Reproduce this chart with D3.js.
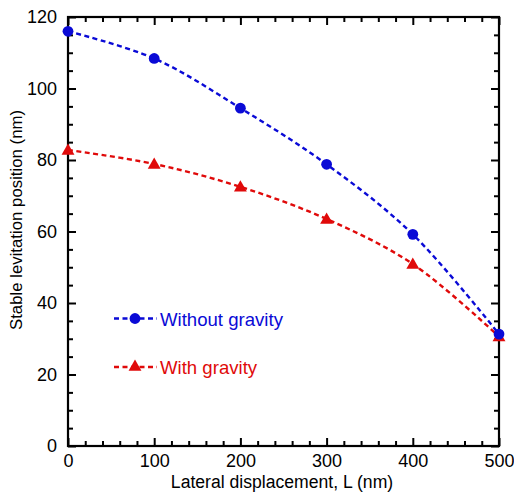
<!DOCTYPE html>
<html>
<head>
<meta charset="utf-8">
<script src="https://cdn.jsdelivr.net/npm/d3@7"></script>
<style>
  html, body { margin: 0; padding: 0; background: #fff; }
  svg { display: block; font-family: "Liberation Sans", Arial, Helvetica, sans-serif; }
</style>
</head>
<body>
<svg id="chart" width="514" height="496"></svg>
<script>
// Lateral displacement (nm)
const displacement = [0, 100, 200, 300, 400, 500];
// Stable levitation position (nm)
const withoutGravity = [116, 108.4, 94.5, 78.8, 59.2, 31.3];
const withGravity = [82.8, 78.9, 72.5, 63.5, 50.9, 30.6];

const xTicks = [0, 100, 200, 300, 400, 500];
const yTicks = [0, 20, 40, 60, 80, 100, 120];
const seriesNames = ["Without gravity", "With gravity"];

const blue = "#0a0ad6";
const red = "#e00a0a";

const svg = d3.select("#chart");
const plotLeft = 68, plotRight = 499, plotTop = 17, plotBottom = 446;

const x = d3.scaleLinear().domain([0, 500]).range([plotLeft, plotRight]);
const y = d3.scaleLinear().domain([0, 120]).range([plotBottom, plotTop]);

const xMinor = d3.range(0, 501, 20).filter(v => v % 100 !== 0);
const yMinor = d3.range(0, 121, 5).filter(v => v % 20 !== 0);

function styleAxis(g) {
  g.select(".domain").remove();
  g.selectAll(".tick line").attr("stroke", "#000").attr("stroke-width", 2);
  g.selectAll(".tick text").attr("fill", "#000").attr("font-size", 18)
    .attr("font-family", "Liberation Sans, Arial, sans-serif");
}

// bottom axis with labels, ticks pointing inward
svg.append("g").attr("transform", `translate(0,${plotBottom})`)
  .call(d3.axisBottom(x).tickValues(xTicks).tickSize(-8).tickPadding(8.5).tickFormat(d3.format("d")))
  .call(styleAxis);
svg.append("g").attr("transform", `translate(0,${plotBottom})`)
  .call(d3.axisBottom(x).tickValues(xMinor).tickSize(-5).tickFormat(""))
  .call(styleAxis);
// top axis (ticks only)
svg.append("g").attr("transform", `translate(0,${plotTop})`)
  .call(d3.axisTop(x).tickValues(xTicks).tickSize(-8).tickFormat(""))
  .call(styleAxis);
svg.append("g").attr("transform", `translate(0,${plotTop})`)
  .call(d3.axisTop(x).tickValues(xMinor).tickSize(-5).tickFormat(""))
  .call(styleAxis);
// left axis with labels
svg.append("g").attr("transform", `translate(${plotLeft},0)`)
  .call(d3.axisLeft(y).tickValues(yTicks).tickSize(-8).tickPadding(11).tickFormat(d3.format("d")))
  .call(styleAxis);
svg.append("g").attr("transform", `translate(${plotLeft},0)`)
  .call(d3.axisLeft(y).tickValues(yMinor).tickSize(-5).tickFormat(""))
  .call(styleAxis);
// right axis (ticks only)
svg.append("g").attr("transform", `translate(${plotRight},0)`)
  .call(d3.axisRight(y).tickValues(yTicks).tickSize(-8).tickFormat(""))
  .call(styleAxis);
svg.append("g").attr("transform", `translate(${plotRight},0)`)
  .call(d3.axisRight(y).tickValues(yMinor).tickSize(-5).tickFormat(""))
  .call(styleAxis);

// frame
svg.append("rect")
  .attr("x", plotLeft).attr("y", plotTop)
  .attr("width", plotRight - plotLeft).attr("height", plotBottom - plotTop)
  .attr("fill", "none").attr("stroke", "#000").attr("stroke-width", 2.2);

// axis titles
svg.append("text")
  .attr("x", 282).attr("y", 488)
  .attr("text-anchor", "middle").attr("font-size", 17.6)
  .text("Lateral displacement, L (nm)");
svg.append("text")
  .attr("transform", `translate(22,220) rotate(-90)`)
  .attr("text-anchor", "middle").attr("font-size", 16.8)
  .text("Stable levitation position (nm)");

const line = d3.line().curve(d3.curveCatmullRom.alpha(0.5));

const triangle = d3.symbol().type(d3.symbolTriangle).size(72);

function drawSeries(values, color, marker) {
  const pts = displacement.map((d, i) => [x(d), y(values[i])]);
  svg.append("path")
    .attr("d", line(pts))
    .attr("fill", "none").attr("stroke", color)
    .attr("stroke-width", 2.4).attr("stroke-dasharray", "5,3.5");
  const g = svg.append("g");
  pts.forEach(p => {
    if (marker === "circle") {
      g.append("circle").attr("cx", p[0]).attr("cy", p[1]).attr("r", 5.4).attr("fill", color);
    } else {
      g.append("path").attr("d", triangle)
        .attr("transform", `translate(${p[0]},${p[1] + 1})`).attr("fill", color);
    }
  });
}

drawSeries(withGravity, red, "triangle");
drawSeries(withoutGravity, blue, "circle");

// legend
const legend = [
  { name: seriesNames[0], color: blue, marker: "circle", yy: 318.5 },
  { name: seriesNames[1], color: red, marker: "triangle", yy: 367 }
];
legend.forEach(l => {
  svg.append("line")
    .attr("x1", 114).attr("x2", 157).attr("y1", l.yy).attr("y2", l.yy)
    .attr("stroke", l.color).attr("stroke-width", 2.4).attr("stroke-dasharray", "5,3.5");
  if (l.marker === "circle") {
    svg.append("circle").attr("cx", 135).attr("cy", l.yy).attr("r", 5.4).attr("fill", l.color);
  } else {
    svg.append("path").attr("d", triangle)
      .attr("transform", `translate(135,${l.yy})`).attr("fill", l.color);
  }
  svg.append("text")
    .attr("x", 160).attr("y", l.yy + 7)
    .attr("font-size", 18.6).attr("fill", l.color)
    .text(l.name);
});
</script>
</body>
</html>
